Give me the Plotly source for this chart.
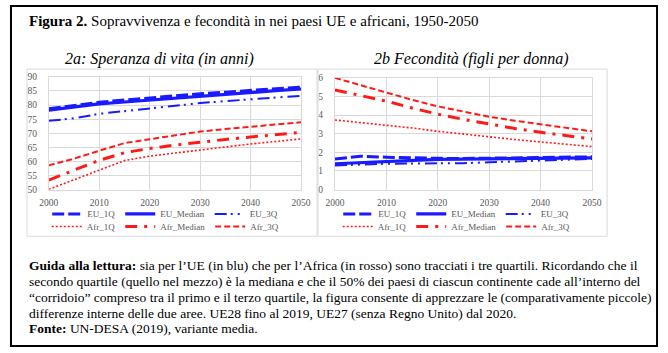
import plotly.graph_objects as go

W, H = 668, 353

years = [2000, 2005, 2010, 2015, 2020, 2025, 2030, 2035, 2040, 2045, 2050]

# 2a: life expectancy (years)
le_eu_1q = [78.7, 79.9, 81.0, 81.8, 82.6, 83.3, 84.0, 84.6, 85.2, 85.8, 86.4]
le_eu_med = [78.2, 79.3, 80.4, 81.1, 81.8, 82.5, 83.1, 83.8, 84.5, 85.1, 85.7]
le_eu_3q = [74.4, 75.3, 76.9, 77.9, 78.9, 79.8, 80.7, 81.4, 82.1, 82.7, 83.3]
le_afr_1q = [50.1, 53.5, 56.9, 60.3, 61.9, 63.0, 64.0, 65.1, 66.2, 67.1, 68.0]
le_afr_med = [53.4, 56.9, 60.4, 63.1, 64.6, 65.8, 66.9, 67.8, 68.7, 69.5, 70.3]
le_afr_3q = [58.6, 61.0, 63.8, 66.5, 67.9, 69.3, 70.6, 71.5, 72.3, 73.1, 73.9]

# 2b: fertility (children per woman)
fe_eu_1q = [1.65, 1.79, 1.74, 1.70, 1.68, 1.67, 1.68, 1.69, 1.70, 1.73, 1.76]
fe_eu_med = [1.39, 1.45, 1.51, 1.57, 1.62, 1.64, 1.65, 1.66, 1.67, 1.69, 1.70]
fe_eu_3q = [1.30, 1.35, 1.39, 1.40, 1.39, 1.42, 1.47, 1.52, 1.57, 1.61, 1.65]
fe_afr_1q = [3.74, 3.61, 3.48, 3.31, 3.13, 2.97, 2.82, 2.69, 2.56, 2.43, 2.31]
fe_afr_med = [5.35, 5.05, 4.75, 4.38, 4.05, 3.77, 3.51, 3.28, 3.08, 2.90, 2.72]
fe_afr_3q = [6.00, 5.60, 5.22, 4.82, 4.47, 4.17, 3.91, 3.70, 3.50, 3.31, 3.13]

names = ["EU_1Q", "EU_Median", "EU_3Q", "Afr_1Q", "Afr_Median", "Afr_3Q"]

title_text = "<b>Figura 2.</b> Sopravvivenza e fecondità in nei paesi UE e africani, 1950-2050"
sub_a = "<i>2a: Speranza di vita (in anni)</i>"
sub_b = "<i>2b Fecondità (figli per donna)</i>"
notes = [
    "<b>Guida alla lettura:</b> sia per l’UE (in blu) che per l’Africa (in rosso) sono tracciati i tre quartili. Ricordando che il",
    "secondo quartile (quello nel mezzo) è la mediana e che il 50% dei paesi di ciascun continente cade all’interno del",
    "“corridoio” compreso tra il primo e il terzo quartile, la figura consente di apprezzare le (comparativamente piccole)",
    "differenze interne delle due aree. UE28 fino al 2019, UE27 (senza Regno Unito) dal 2020.",
    "<b>Fonte:</b> UN-DESA (2019), variante media.",
]


def px(x):
    return x / W


def py(y):
    return 1 - y / H


BLUE = "#1a1aff"
RED = "#ff1a1a"
styles = [
    dict(color=BLUE, width=3, dash="12px,4px"),
    dict(color=BLUE, width=3.2, dash="solid"),
    dict(color=BLUE, width=2, dash="12px,4px,2px,5px,2px,5px"),
    dict(color=RED, width=1.6, dash="2px,2px"),
    dict(color=RED, width=3, dash="12px,7px,3px,7px"),
    dict(color=RED, width=2, dash="6px,3px"),
]

fig = go.Figure()

left = [le_eu_1q, le_eu_med, le_eu_3q, le_afr_1q, le_afr_med, le_afr_3q]
right = [fe_eu_1q, fe_eu_med, fe_eu_3q, fe_afr_1q, fe_afr_med, fe_afr_3q]

for i, (nm, vals) in enumerate(zip(names, left)):
    fig.add_trace(go.Scatter(
        x=years, y=vals, name=nm, mode="lines", line=styles[i],
        xaxis="x", yaxis="y", legend="legend" if i < 3 else "legend2"))
for i, (nm, vals) in enumerate(zip(names, right)):
    fig.add_trace(go.Scatter(
        x=years, y=vals, name=nm, mode="lines", line=styles[i],
        xaxis="x2", yaxis="y2", legend="legend3" if i < 3 else "legend4"))

SERIF = "Liberation Serif, 'Times New Roman', 'DejaVu Serif', serif"
GRID = "#d9d9d9"
TICKF = dict(family=SERIF, size=9.5, color="#595959")

axcommon = dict(showgrid=True, gridcolor=GRID, gridwidth=1, showline=True,
                linecolor=GRID, linewidth=1, mirror=True, zeroline=False,
                ticks="", tickfont=TICKF, fixedrange=True)

legcommon = dict(orientation="h", xanchor="center", yanchor="middle",
                 bgcolor="rgba(0,0,0,0)", font=dict(family=SERIF, size=9, color="#595959"),
                 itemwidth=30, tracegroupgap=0)

fig.update_layout(
    width=W, height=H,
    margin=dict(l=0, r=0, t=0, b=0),
    paper_bgcolor="white", plot_bgcolor="white",
    xaxis=dict(domain=[px(40), px(300)], range=[2000, 2050], dtick=10, anchor="y",
               ticklabelstandoff=4, **axcommon),
    yaxis=dict(domain=[py(190), py(74)], range=[50, 90], dtick=5, anchor="x",
               ticklabelstandoff=9, **axcommon),
    xaxis2=dict(domain=[px(335), px(600)], range=[2000, 2050], dtick=10, anchor="y2",
                ticklabelstandoff=4, **axcommon),
    yaxis2=dict(domain=[py(190), py(75)], range=[0, 6], dtick=1, anchor="x2",
                ticklabelstandoff=9, **axcommon),
    legend=dict(x=px(160), y=py(215), **legcommon),
    legend2=dict(x=px(160), y=py(228), **legcommon),
    legend3=dict(x=px(460), y=py(215), **legcommon),
    legend4=dict(x=px(460), y=py(228), **legcommon),
    showlegend=True,
)

shapes = [
    dict(type="rect", xref="paper", yref="paper", x0=px(17.5), x1=px(316.5), y0=py(238), y1=py(66),
         line=dict(color=GRID, width=1)),
    dict(type="rect", xref="paper", yref="paper", x0=px(317.5), x1=px(615.5), y0=py(238), y1=py(66),
         line=dict(color=GRID, width=1)),
    dict(type="rect", xref="paper", yref="paper", x0=px(1), x1=px(667), y0=py(351), y1=py(1),
         line=dict(color="black", width=2)),
]
fig.update_layout(shapes=shapes)

ann = [
    dict(text=title_text, x=px(18), y=py(16), xanchor="left", yanchor="middle",
         font=dict(family=SERIF, size=15, color="black")),
    dict(text=sub_a, x=px(154), y=py(56), xanchor="center", yanchor="middle",
         font=dict(family=SERIF, size=16, color="black")),
    dict(text=sub_b, x=px(476), y=py(56), xanchor="center", yanchor="middle",
         font=dict(family=SERIF, size=16, color="black")),
]
note_y = [268, 285, 301, 317, 333]
for t, yy in zip(notes, note_y):
    ann.append(dict(text=t, x=px(18), y=py(yy), xanchor="left", yanchor="middle",
                    font=dict(family=SERIF, size=13.5, color="black")))
for a in ann:
    a.update(xref="paper", yref="paper", showarrow=False)
fig.update_layout(annotations=ann)

fig.write_html("out.html")
